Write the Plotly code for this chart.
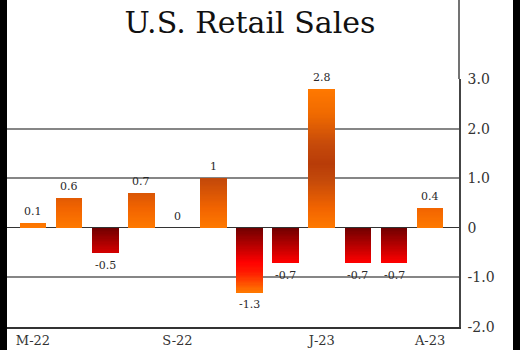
import math
import plotly.graph_objects as go

# Monthly % change in U.S. retail sales, May 2022 - April 2023
months = ["May 2022", "Jun 2022", "Jul 2022", "Aug 2022", "Sep 2022", "Oct 2022",
          "Nov 2022", "Dec 2022", "Jan 2023", "Feb 2023", "Mar 2023", "Apr 2023"]
values = [0.1, 0.6, -0.5, 0.7, 0, 1.0, -1.3, -0.7, 2.8, -0.7, -0.7, 0.4]

tick_positions = [0, 4, 8, 11]
tick_labels = ["M-22", "S-22", "J-23", "A-23"]

y_ticks = [-2, -1, 0, 1, 2, 3]
y_tick_labels = ["-2.0", "-1.0", "0", "1.0", "2.0", "3.0"]

SERIF = "DejaVu Serif, serif"

# Vertical colour gradients, keyed by the y value (absolute position on the axis)
POS_STOPS = [(0.0, "#ff7a00"), (0.4, "#f26400"), (1.0, "#c2480a"), (1.3, "#b83c08"),
             (1.7, "#c64a0a"), (2.3, "#f06a00"), (2.8, "#ff7800"), (3.5, "#ff7800")]
NEG_STOPS = [(0.0, "#6e0000"), (-0.35, "#b40000"), (-0.7, "#ff0000"), (-0.9, "#ff1a00"),
             (-1.3, "#ff7a00"), (-2.0, "#ff7a00")]


def _hex(c):
    c = c.lstrip("#")
    return [int(c[i:i + 2], 16) for i in (0, 2, 4)]


def grad_color(y, stops):
    ordered = sorted(stops, key=lambda s: abs(s[0]))
    a = abs(y)
    for (p0, c0), (p1, c1) in zip(ordered, ordered[1:]):
        if abs(p0) <= a <= abs(p1):
            t = (a - abs(p0)) / (abs(p1) - abs(p0))
            r = [round(u + (v - u) * t) for u, v in zip(_hex(c0), _hex(c1))]
            return "rgb({},{},{})".format(*r)
    return ordered[-1][1]


x = list(range(len(values)))
step = 0.025
bar_width = 0.74

fig = go.Figure()

# Each bar is built from thin stacked slices so it can carry a vertical gradient
n_pos = math.ceil(max(values) / step)
for k in range(n_pos):
    lo = k * step
    base, h = [], []
    for v in values:
        if v > lo + 1e-9:
            base.append(lo)
            h.append(min(step, v - lo))
        else:
            base.append(None)
            h.append(None)
    fig.add_trace(go.Bar(x=x, y=h, base=base, width=bar_width,
                         marker=dict(color=grad_color(lo + step / 2, POS_STOPS), line=dict(width=0)),
                         hoverinfo="skip", showlegend=False))

n_neg = math.ceil(-min(values) / step)
for k in range(n_neg):
    hi = -k * step
    base, h = [], []
    for v in values:
        if v < hi - 1e-9:
            bot_seg = max(v, hi - step)
            base.append(bot_seg)
            h.append(hi - bot_seg)
        else:
            base.append(None)
            h.append(None)
    fig.add_trace(go.Bar(x=x, y=h, base=base, width=bar_width,
                         marker=dict(color=grad_color(hi - step / 2, NEG_STOPS), line=dict(width=0)),
                         hoverinfo="skip", showlegend=False))

# Invisible hover layer carrying the month names
fig.add_trace(go.Scatter(x=x, y=values, mode="markers", marker=dict(size=1, opacity=0),
                         customdata=months, hovertemplate="%{customdata}: %{y}%<extra></extra>",
                         showlegend=False))

# Value labels above positive bars and below negative ones
annotations = []
for xi, v in zip(x, values):
    neg = v < 0
    annotations.append(dict(
        x=xi, y=v, xref="x", yref="y", text=f"{v:g}", showarrow=False,
        yanchor="top" if neg else "bottom", yshift=-4 if neg else 3,
        font=dict(family=SERIF, size=11, color="#2a2a2a")))

fig.update_layout(
    width=520, height=350,
    margin=dict(l=7, r=61, t=79, b=23, autoexpand=False),
    paper_bgcolor="white", plot_bgcolor="white",
    barmode="overlay", bargap=0,
    title=dict(text="U.S. Retail Sales", x=(250 - 7) / 452, xref="paper", xanchor="center",
               y=1 - 22 / 350, yref="container", yanchor="middle",
               font=dict(family=SERIF, size=30, color="#111111")),
    xaxis=dict(range=[-0.72, 11.8], tickmode="array", tickvals=tick_positions, ticktext=tick_labels,
               showgrid=False, zeroline=False, showline=True, linecolor="#333333", linewidth=2,
               ticks="", automargin=False,
               tickfont=dict(family=SERIF, size=13, color="#333333")),
    yaxis=dict(range=[-2, 3], side="right", tickmode="array", tickvals=y_ticks, ticktext=y_tick_labels,
               showgrid=True, gridcolor="#868686", gridwidth=1.6,
               zeroline=True, zerolinecolor="#333333", zerolinewidth=1,
               showline=True, linecolor="#444444", linewidth=1.5, ticks="",
               ticklabelstandoff=4, automargin=False,
               tickfont=dict(family=SERIF, size=14, color="#333333")),
    annotations=annotations,
    shapes=[
        dict(type="rect", xref="paper", yref="paper", x0=-0.05, x1=0, y0=-0.3, y1=1.5,
             fillcolor="black", line=dict(width=0), layer="above"),
        dict(type="rect", xref="paper", yref="paper", x0=(513 - 7) / 452, x1=1.25, y0=-0.3, y1=1.5,
             fillcolor="black", line=dict(width=0), layer="above"),
        dict(type="line", xref="paper", yref="paper", x0=1, x1=1, y0=1, y1=1.4,
             line=dict(color="#444444", width=1.5)),
    ],
)

fig.write_html("out.html")
